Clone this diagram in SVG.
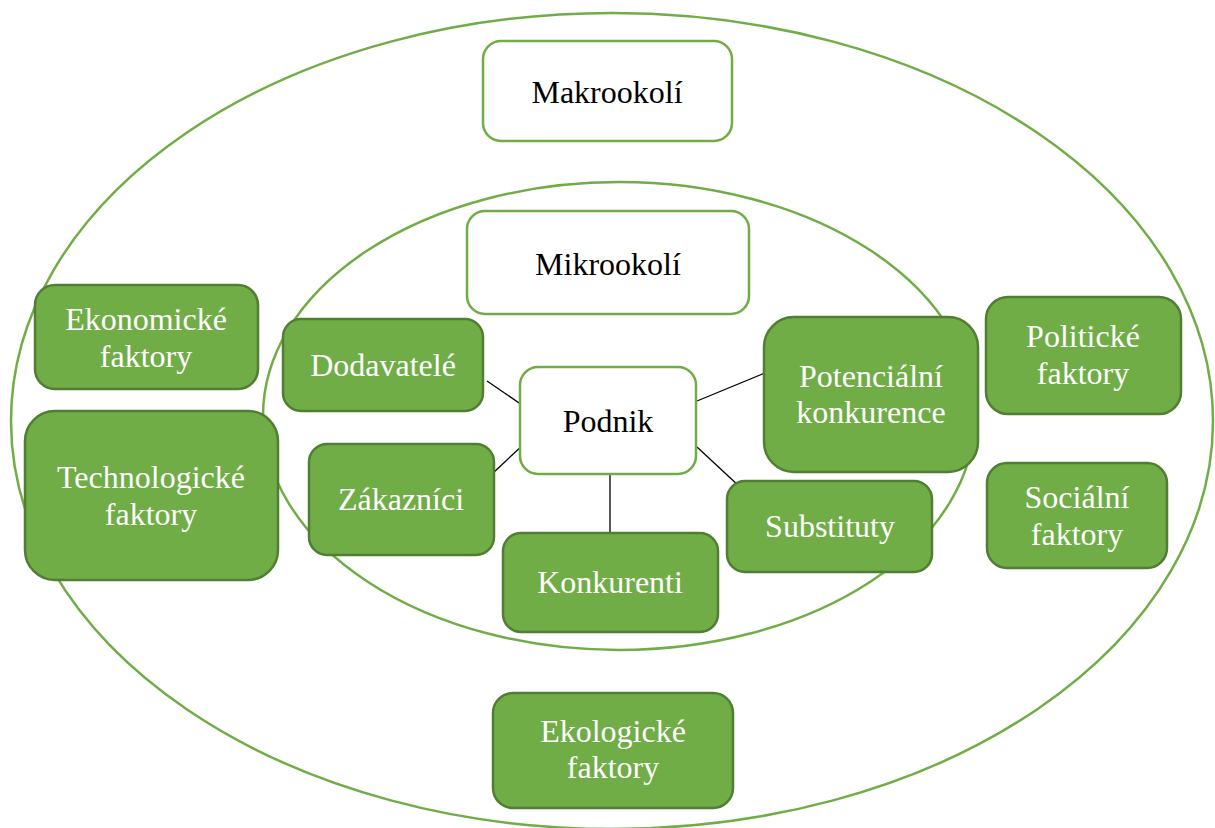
<svg xmlns="http://www.w3.org/2000/svg" width="1215" height="828" viewBox="0 0 1215 828">
<style>
.ring{fill:none;stroke:#70ad47;stroke-width:2.5}
.wbox{fill:#ffffff;stroke:#70ad47;stroke-width:2.5}
.gbox{fill:#70ad47;stroke:#507e32;stroke-width:2.5}
.conn{stroke:#000000;stroke-width:1.3;fill:none}
.t{font-family:'Liberation Serif','Times New Roman','DejaVu Serif',serif;font-size:32px;text-anchor:middle}
.dk{fill:#000000}
.lt{fill:#ffffff}
</style>
<rect width="1215" height="828" fill="#ffffff"/>
<g id="rings">
<ellipse class="ring" cx="612" cy="421" rx="601" ry="408"/>
<ellipse class="ring" cx="619" cy="416" rx="356" ry="234"/>
</g>
<g id="connectors">
<line class="conn" x1="487" y1="381" x2="525" y2="407"/>
<line class="conn" x1="493" y1="473" x2="524" y2="444"/>
<line class="conn" x1="610" y1="474" x2="610" y2="533"/>
<line class="conn" x1="697" y1="447" x2="740" y2="487"/>
<line class="conn" x1="697" y1="401" x2="765" y2="373"/>
</g>
<g font-family="Liberation Serif, Times New Roman, serif" font-size="32" text-anchor="middle">
<g id="makrookoli">
<rect class="wbox" x="483" y="41" width="249" height="100" rx="18"/>
<text class="t dk" x="607" y="103">Makrookolí</text>
</g>
<g id="mikrookoli">
<rect class="wbox" x="467" y="211" width="282" height="103" rx="18"/>
<text class="t dk" x="608" y="275">Mikrookolí</text>
</g>
<g id="podnik">
<rect class="wbox" x="520" y="367" width="176" height="107" rx="18"/>
<text class="t dk" x="608" y="432">Podnik</text>
</g>
<g id="ekonomicke">
<rect class="gbox" x="35" y="285" width="223" height="104" rx="20"/>
<text class="t lt" x="146" y="330">Ekonomické</text>
<text class="t lt" x="146" y="367">faktory</text>
</g>
<g id="technologicke">
<rect class="gbox" x="25" y="411" width="253" height="169" rx="30"/>
<text class="t lt" x="151" y="488">Technologické</text>
<text class="t lt" x="151" y="525">faktory</text>
</g>
<g id="dodavatele">
<rect class="gbox" x="283" y="319" width="200" height="92" rx="18"/>
<text class="t lt" x="383" y="376">Dodavatelé</text>
</g>
<g id="zakaznici">
<rect class="gbox" x="309" y="444" width="185" height="111" rx="18"/>
<text class="t lt" x="401" y="510">Zákazníci</text>
</g>
<g id="konkurenti">
<rect class="gbox" x="503" y="533" width="215" height="99" rx="18"/>
<text class="t lt" x="610" y="593">Konkurenti</text>
</g>
<g id="substituty">
<rect class="gbox" x="727" y="481" width="205" height="91" rx="18"/>
<text class="t lt" x="830" y="537">Substituty</text>
</g>
<g id="potencialni">
<rect class="gbox" x="764" y="317" width="214" height="155" rx="30"/>
<text class="t lt" x="871" y="387">Potenciální</text>
<text class="t lt" x="871" y="423">konkurence</text>
</g>
<g id="politicke">
<rect class="gbox" x="986" y="297" width="195" height="117" rx="22"/>
<text class="t lt" x="1083" y="347">Politické</text>
<text class="t lt" x="1083" y="384">faktory</text>
</g>
<g id="socialni">
<rect class="gbox" x="987" y="463" width="180" height="105" rx="20"/>
<text class="t lt" x="1077" y="508">Sociální</text>
<text class="t lt" x="1077" y="545">faktory</text>
</g>
<g id="ekologicke">
<rect class="gbox" x="493" y="693" width="240" height="115" rx="20"/>
<text class="t lt" x="613" y="742">Ekologické</text>
<text class="t lt" x="613" y="778">faktory</text>
</g>
</g>
</svg>
